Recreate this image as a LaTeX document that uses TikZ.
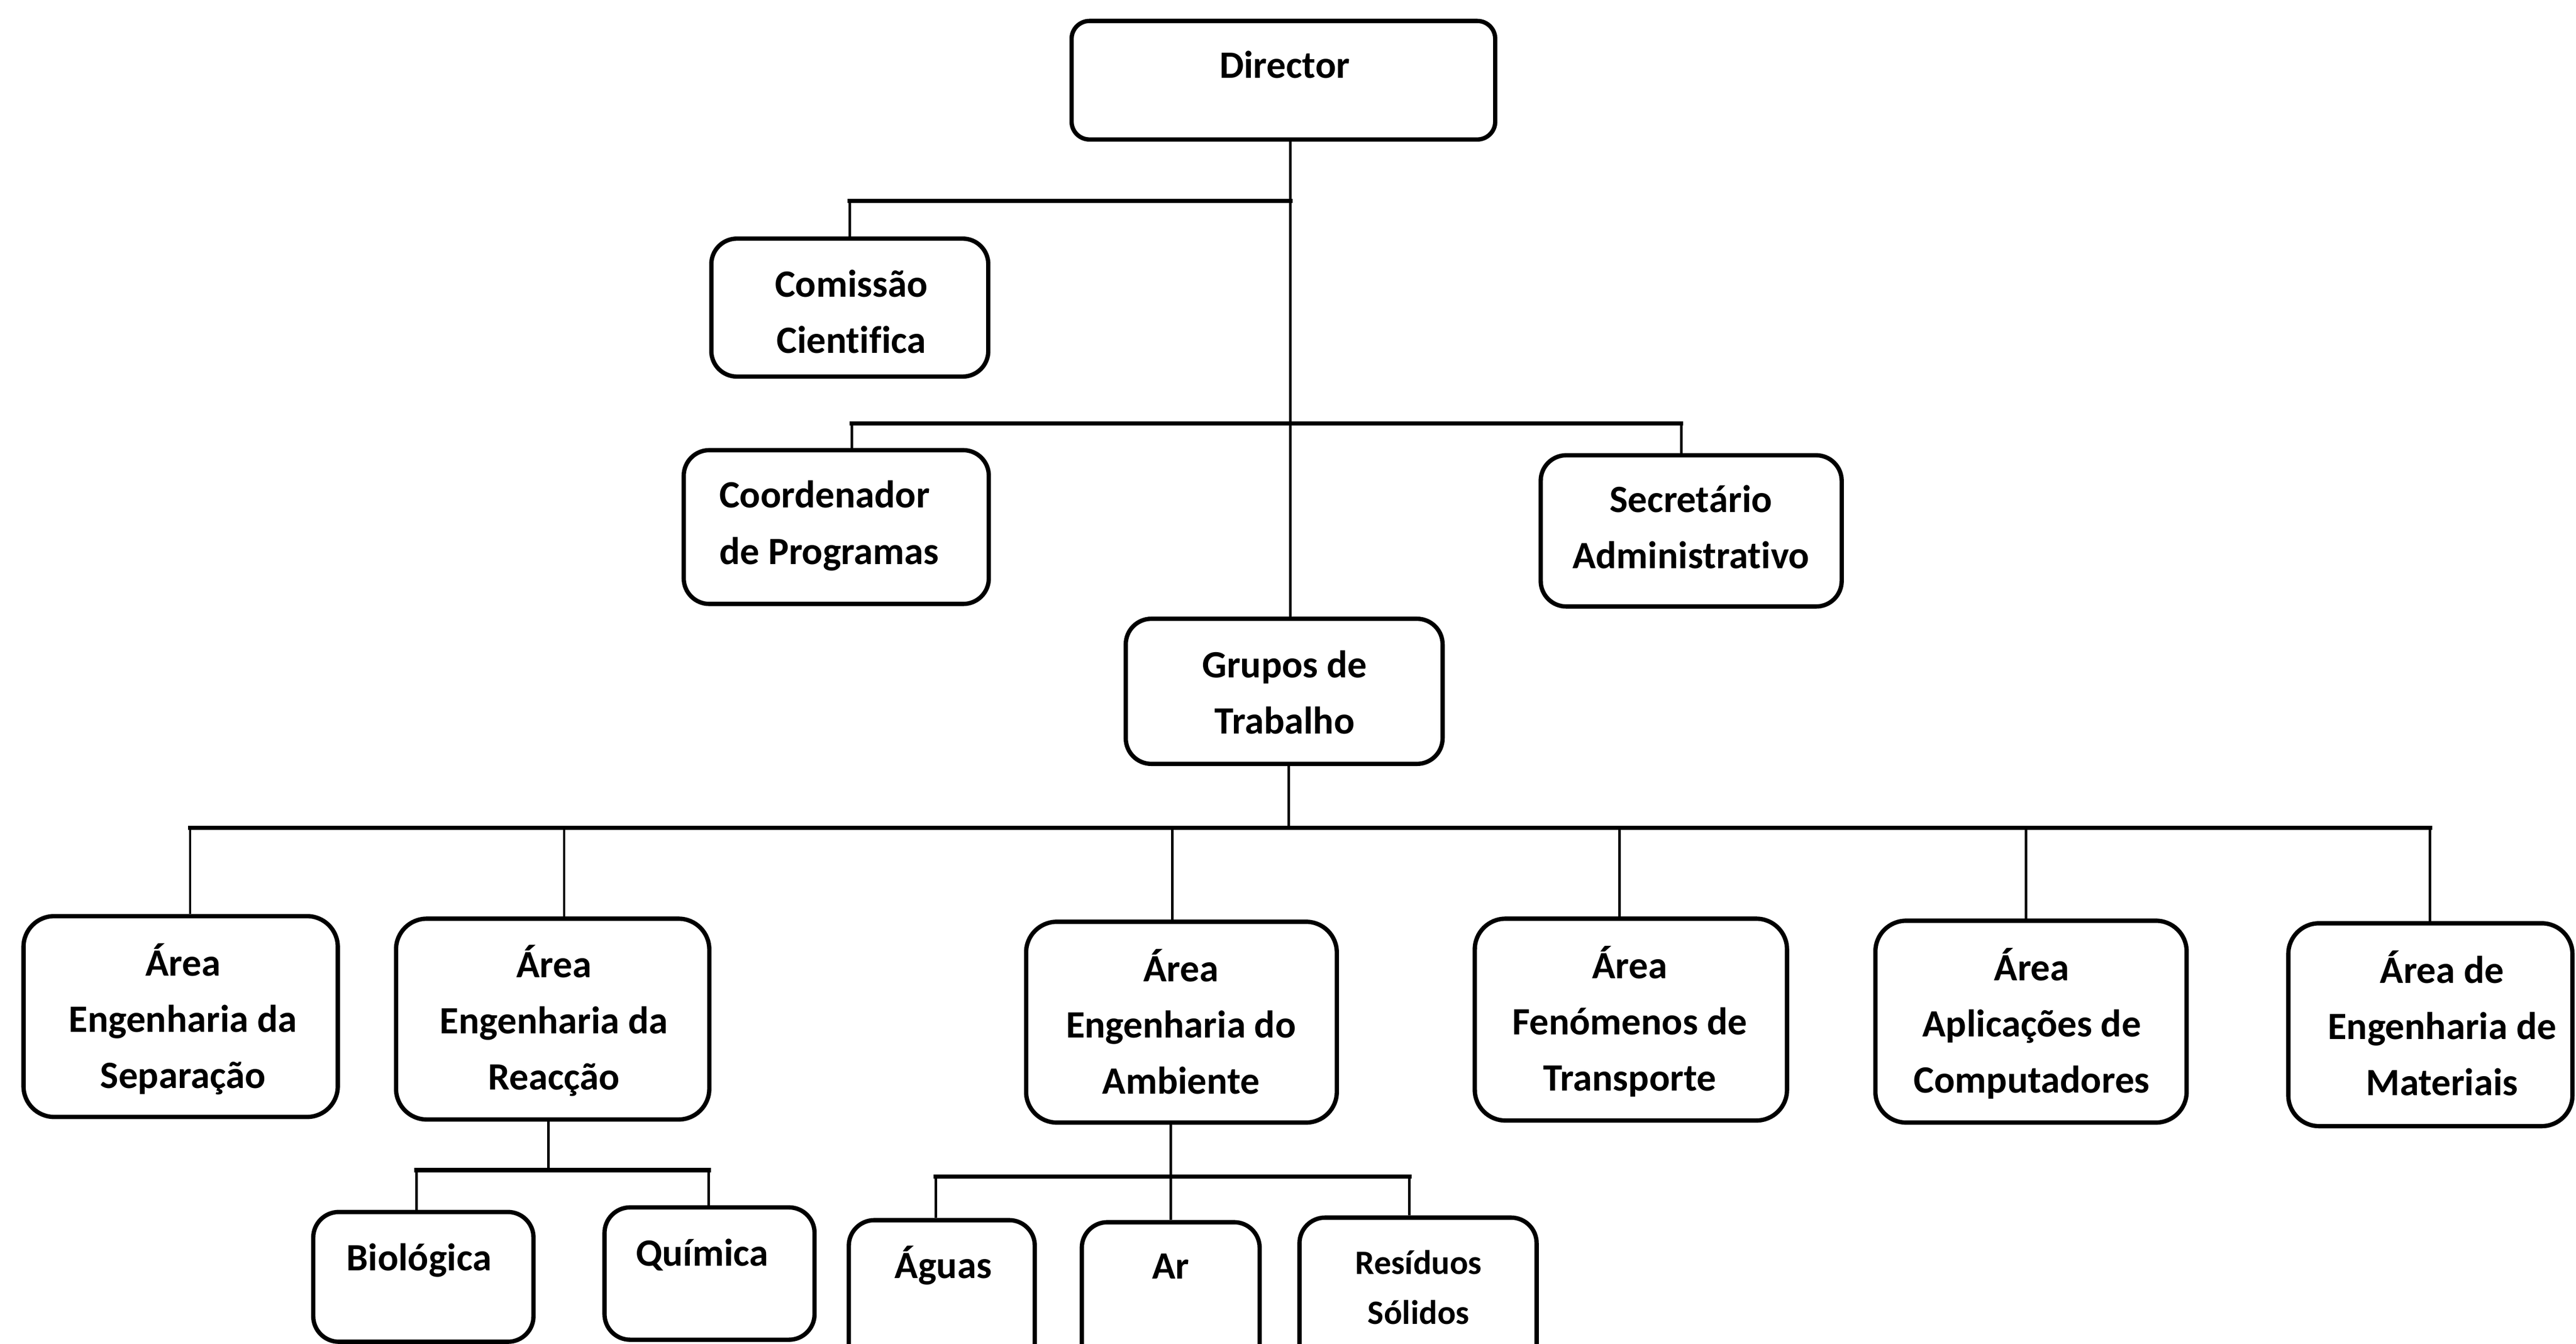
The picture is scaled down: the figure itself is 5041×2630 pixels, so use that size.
\documentclass[tikz,border=0pt]{standalone}
\usepackage{fontspec}
\setmainfont{Carlito}[Ligatures=NoCommon]
\usetikzlibrary{fit}
\begin{document}
\begin{tikzpicture}[x=0.01cm,y=-0.01cm,
  box/.style={draw, line width=2.4pt, rounded corners=0.5cm, inner sep=0pt},
  abox/.style={box, rounded corners=0.6cm},
  txt/.style={font=\fontsize{21.5}{31.3}\selectfont\bfseries, align=center, inner sep=0pt, anchor=base},
  stxt/.style={txt, font=\fontsize{19}{28}\selectfont\bfseries},
  hline/.style={line width=2.4pt, line cap=rect},
  vline/.style={line width=1.4pt}]
\useasboundingbox (0,0) rectangle (5041,2630);

% boxes
\node[box, rounded corners=0.35cm, fit={(2097,41) (2926,273)}] (dir) {};
\node[box, fit={(1392,467) (1934,737)}] (com) {};
\node[box, fit={(1338,881) (1935,1182)}] (coord) {};
\node[box, fit={(3015,891) (3604,1187)}] (sec) {};
\node[box, fit={(2203,1211) (2823,1495)}] (grp) {};
\node[abox, fit={(46,1793) (661,2186)}] (sep) {};
\node[abox, fit={(775,1798) (1388,2191)}] (rea) {};
\node[abox, fit={(2008,1804) (2616,2197)}] (amb) {};
\node[abox, fit={(2886,1798) (3497,2193)}] (fen) {};
\node[abox, fit={(3670,1802) (4279,2197)}] (apl) {};
\node[abox, fit={(4478,1807) (5034,2204)}] (mat) {};
\node[box, fit={(613,2372) (1044,2626)}] (bio) {};
\node[box, fit={(1183,2363) (1594,2622)}] (qui) {};
\node[box, fit={(1661,2388) (2025,2700)}] (agu) {};
\node[box, fit={(2117,2392) (2465,2700)}] (ar) {};
\node[box, fit={(2543,2383) (3007,2700)}] (res) {};

% texts (anchor = baseline of last line)
\node[txt] (dirT) at (2514,153) {Director};
\node[txt] (comT) at (1666,691) {Comissão\\Cientifica};
\node[txt, align=left, anchor=base west] (coordT) at (1407,1104) {Coordenador\\de Programas};
\node[txt] (secT) at (3309,1113) {Secretário\\Administrativo};
\node[txt] (grpT) at (2514,1436) {Grupos de\\Trabalho};
\node[txt] (sepT) at (358,2130) {Área\\Engenharia da\\Separação};
\node[txt] (reaT) at (1084,2133) {Área\\Engenharia da\\Reacção};
\node[txt] (ambT) at (2311,2141) {Área\\Engenharia do\\Ambiente};
\node[txt] (fenT) at (3189,2135) {Área\\Fenómenos de\\Transporte};
\node[txt] (aplT) at (3976,2139) {Área\\Aplicações de\\Computadores};
\node[txt] (matT) at (4779,2144) {Área de\\Engenharia de\\Materiais};
\node[txt] (bioT) at (820,2487) {Biológica};
\node[txt] (quiT) at (1374,2478) {Química};
\node[txt] (aguT) at (1846,2502) {Águas};
\node[txt] (arT) at (2291,2503) {Ar};
\node[stxt] (resT) at (2776,2592) {Resíduos\\Sólidos};

% junctions
\coordinate (jT) at (2525,393);
\coordinate (jL) at (1667,829);
\coordinate (jR) at (3290,829);
\coordinate (jG) at (2522,1620);
\coordinate (m1) at (372,1620);
\coordinate (m2) at (1104,1620);
\coordinate (m3) at (2294,1620);
\coordinate (m4) at (3169,1620);
\coordinate (m5) at (3965,1620);
\coordinate (m6) at (4755,1620);
\coordinate (r0) at (1073,2290);
\coordinate (r1) at (815,2290);
\coordinate (r2) at (1387,2290);
\coordinate (a0) at (2291,2303);
\coordinate (a1) at (1831,2303);
\coordinate (a2) at (2758,2303);

% connectors
\draw[vline] (dir.south -| jT) -- (grp.north -| jT);
\draw[hline] (jT) -- (jT -| com.north);
\draw[vline] (jT -| com.north) -- (com.north);
\draw[hline] (jL) -- (jR);
\draw[vline] (jL) -- (jL |- coord.north);
\draw[vline] (jR) -- (jR |- sec.north);
\draw[vline] (grp.south -| jG) -- (jG);
\draw[hline] (m1) -- (m6);
\draw[vline] (m1) -- (m1 |- sep.north);
\draw[vline] (m2) -- (m2 |- rea.north);
\draw[vline] (m3) -- (m3 |- amb.north);
\draw[vline] (m4) -- (m4 |- fen.north);
\draw[vline] (m5) -- (m5 |- apl.north);
\draw[vline] (m6) -- (m6 |- mat.north);
\draw[vline] (rea.south -| r0) -- (r0);
\draw[hline] (r1) -- (r2);
\draw[vline] (r1) -- (r1 |- bio.north);
\draw[vline] (r2) -- (r2 |- qui.north);
\draw[vline] (amb.south -| a0) -- (a0 |- ar.north);
\draw[hline] (a1) -- (a2);
\draw[vline] (a1) -- (a1 |- agu.north);
\draw[vline] (a2) -- (a2 |- res.north);
\end{tikzpicture}
\end{document}
